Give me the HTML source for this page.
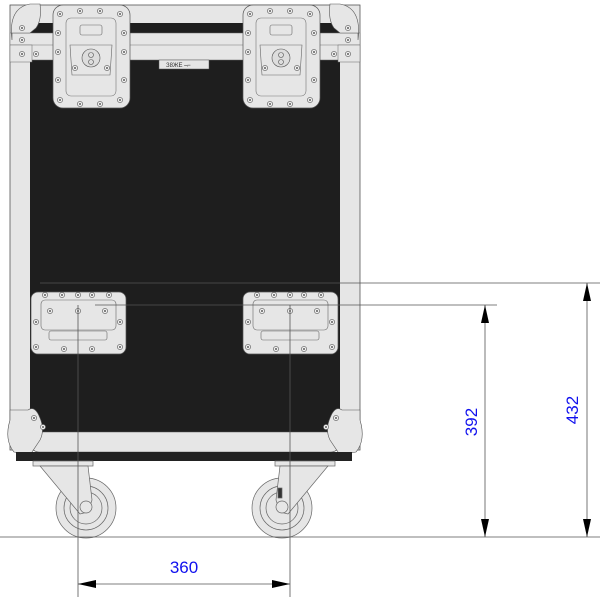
<!DOCTYPE html>
<html><head><style>body{margin:0;background:#fff}svg{display:block}</style></head><body>
<svg width="600" height="597" viewBox="0 0 600 597" xmlns="http://www.w3.org/2000/svg" font-family="Liberation Sans, sans-serif">
<defs>
<g id="scr"><circle r="2.6" fill="#eee" stroke="#555" stroke-width="0.6"/><circle r="0.9" fill="#333"/></g>
</defs>
<!-- case frame -->
<rect x="10" y="5" width="350" height="445" fill="#e6e6e6" stroke="#555" stroke-width="0.8"/>
<rect x="30" y="23" width="310" height="409" fill="#1e1e1e"/>
<rect x="10" y="33" width="350" height="27" fill="#e6e6e6" stroke="#666" stroke-width="0.5"/>
<line x1="10" y1="45" x2="360" y2="45" stroke="#777" stroke-width="0.5"/>
<rect x="10" y="45" width="22" height="17" fill="#e6e6e6" stroke="#666" stroke-width="0.5"/>
<rect x="338" y="45" width="22" height="17" fill="#e6e6e6" stroke="#666" stroke-width="0.5"/>
<!-- corners top -->
<path d="M12 40 Q8 8 30 4 L40 4 Q42 20 36 28 L30 33 L12 33Z" fill="#e6e6e6" stroke="#555" stroke-width="0.6"/>
<path d="M358 40 Q362 8 340 4 L330 4 Q328 20 334 28 L340 33 L358 33Z" fill="#e6e6e6" stroke="#555" stroke-width="0.6"/>
<!-- bottom frame -->
<rect x="30" y="432" width="310" height="20" rx="9" fill="#e6e6e6" stroke="#555" stroke-width="0.6"/>
<path d="M10 420 Q4 440 14 452 L30 455 L40 440 Q45 430 40 418 Q35 405 28 410 L10 410Z" fill="#e6e6e6" stroke="#555" stroke-width="0.6"/>
<path d="M360 420 Q366 440 356 452 L340 455 L330 440 Q325 430 330 418 Q335 405 342 410 L360 410Z" fill="#e6e6e6" stroke="#555" stroke-width="0.6"/>
<rect x="16" y="452" width="336" height="9" fill="#222"/>
<use href="#scr" x="34" y="418"/><use href="#scr" x="43" y="427"/><use href="#scr" x="336" y="418"/><use href="#scr" x="326" y="427"/>
<use href="#scr" x="22" y="28"/><use href="#scr" x="22" y="40"/><use href="#scr" x="22" y="54"/><use href="#scr" x="36" y="54"/>
<use href="#scr" x="348" y="28"/><use href="#scr" x="348" y="40"/><use href="#scr" x="348" y="54"/><use href="#scr" x="334" y="54"/>
<!-- label plate -->
<rect x="159" y="60" width="50" height="9" fill="#e6e6e6" stroke="#555" stroke-width="0.5"/>
<text x="166" y="67" font-size="6" fill="#333">З8ЖЕ ⎯⌐</text>
<!-- latches -->
<g id="latch">
<rect x="53" y="5" width="77" height="103" rx="10" fill="#e6e6e6" stroke="#555" stroke-width="0.7"/>
<rect x="66" y="18" width="50" height="78" rx="5" fill="none" stroke="#777" stroke-width="0.6"/>
<rect x="80" y="25" width="22" height="10" rx="2" fill="none" stroke="#666" stroke-width="0.6"/>
<path d="M70 45 L112 45 L110 75 L72 75Z" fill="none" stroke="#666" stroke-width="0.6"/>
<circle cx="91" cy="58" r="9" fill="#ddd" stroke="#555" stroke-width="0.6"/>
<circle cx="91" cy="55" r="2.5" fill="none" stroke="#555" stroke-width="0.6"/>
<circle cx="91" cy="62" r="2.5" fill="none" stroke="#555" stroke-width="0.6"/>
<use href="#scr" x="60" y="14"/><use href="#scr" x="80" y="11"/><use href="#scr" x="100" y="11"/><use href="#scr" x="120" y="14"/>
<use href="#scr" x="58" y="33"/><use href="#scr" x="124" y="33"/><use href="#scr" x="58" y="52"/><use href="#scr" x="124" y="52"/>
<use href="#scr" x="58" y="80"/><use href="#scr" x="124" y="80"/><use href="#scr" x="60" y="100"/><use href="#scr" x="80" y="104"/><use href="#scr" x="100" y="104"/><use href="#scr" x="120" y="100"/>
<use href="#scr" x="75" y="68"/><use href="#scr" x="107" y="68"/>
</g>
<use href="#latch" x="190"/>
<!-- handles -->
<g id="hand">
<rect x="31" y="292" width="95" height="62" rx="7" fill="#e6e6e6" stroke="#555" stroke-width="0.7"/>
<rect x="41" y="300" width="75" height="30" rx="4" fill="none" stroke="#666" stroke-width="0.6"/>
<rect x="49" y="331" width="58" height="9" rx="2" fill="none" stroke="#666" stroke-width="0.6"/>
<use href="#scr" x="45" y="295"/><use href="#scr" x="62" y="295"/><use href="#scr" x="78" y="295"/><use href="#scr" x="92" y="295"/><use href="#scr" x="109" y="295"/>
<use href="#scr" x="50" y="311"/><use href="#scr" x="78" y="311"/><use href="#scr" x="105" y="311"/>
<use href="#scr" x="36" y="322"/><use href="#scr" x="120" y="322"/><use href="#scr" x="36" y="347"/><use href="#scr" x="120" y="347"/>
<use href="#scr" x="64" y="349"/><use href="#scr" x="92" y="349"/>
</g>
<use href="#hand" x="212"/>
<!-- castors -->
<g fill="#e6e6e6" stroke="#666" stroke-width="0.7">
<rect x="33" y="461" width="60" height="5"/>
<circle cx="86" cy="508" r="30"/>
<circle cx="86" cy="508" r="22" fill="none"/>
<circle cx="86" cy="508" r="16" fill="none"/>
<path d="M40 466 L88 466 L92 500 L88 512 L80 514Z"/>
<circle cx="86" cy="507" r="6"/>
</g>
<g fill="#e6e6e6" stroke="#666" stroke-width="0.7">
<rect x="275" y="461" width="60" height="5"/>
<circle cx="282" cy="508" r="30"/>
<circle cx="282" cy="508" r="22" fill="none"/>
<circle cx="282" cy="508" r="16" fill="none"/>
<path d="M328 466 L280 466 L276 500 L280 512 L288 514Z"/>
<circle cx="282" cy="507" r="6"/>
<rect x="278" y="488" width="4" height="10" fill="#333"/>
</g>
<!-- dimension lines -->
<g stroke="#555" stroke-width="0.8" fill="none">
<line x1="0" y1="537" x2="600" y2="537"/>
<line x1="40" y1="283" x2="600" y2="283"/>
<line x1="95" y1="305" x2="497" y2="305"/>
<line x1="78" y1="305" x2="78" y2="597"/>
<line x1="290" y1="305" x2="290" y2="597"/>
<line x1="78" y1="584" x2="290" y2="584"/>
<line x1="485" y1="305" x2="485" y2="537"/>
<line x1="587" y1="283" x2="587" y2="537"/>
</g>
<g fill="#000">
<path d="M78 584 L96 580 L96 588Z"/><path d="M290 584 L272 580 L272 588Z"/>
<path d="M485 305 L481 323 L489 323Z"/><path d="M485 537 L481 519 L489 519Z"/>
<path d="M587 283 L583 301 L591 301Z"/><path d="M587 537 L583 519 L591 519Z"/>
</g>
<g fill="#1010ee" font-size="17">
<text x="184" y="573" text-anchor="middle">360</text>
<text transform="translate(477,422) rotate(-90)" text-anchor="middle">392</text>
<text transform="translate(578,410) rotate(-90)" text-anchor="middle">432</text>
</g>
</svg>
</body></html>
